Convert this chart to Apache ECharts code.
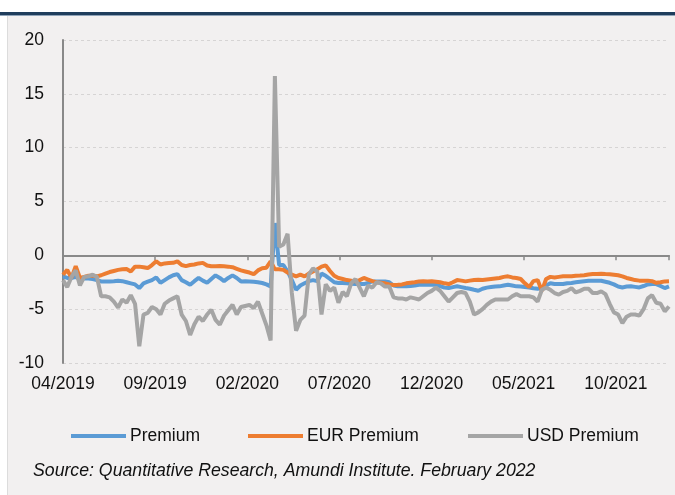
<!DOCTYPE html>
<html>
<head>
<meta charset="utf-8">
<script src="https://cdn.jsdelivr.net/npm/echarts@6/dist/echarts.min.js"></script>
<style>
  html, body { margin: 0; padding: 0; background: #f2f0f0; }
  #chart { width: 675px; height: 495px; }
</style>
</head>
<body>
<div id="chart"></div>
<script>
// ---- Data (weekly observations, first week of April 2019 onward) ----
const START_DATE = '2019-04-05';
const seriesNames = ['Premium', 'EUR Premium', 'USD Premium'];
const yTicks = [-10, -5, 0, 5, 10, 15, 20];
const xTickLabels = ['04/2019', '09/2019', '02/2020', '07/2020', '12/2020', '05/2021', '10/2021'];

const premium = [
  -1.95, -2.1, -2.1, -2.0, -2.2, -2.15, -2.15, -2.2, -2.3, -2.42,
  -2.42, -2.42, -2.4, -2.36, -2.4, -2.5, -2.6, -2.7, -3.04, -2.6,
  -2.45, -2.3, -2.05, -2.55, -2.3, -2.05, -1.85, -1.74, -2.3, -2.5,
  -2.73, -2.4, -2.1, -2.35, -2.55, -2.2, -1.86, -2.1, -2.4, -2.1,
  -1.86, -2.1, -2.42, -2.4, -2.42, -2.45, -2.5, -2.57, -2.7, -2.9,
  3.0, -0.9, -0.9, -1.5, -2.3, -3.2, -2.8, -2.6, -2.4, -2.3,
  -2.4, -1.7, -1.9, -2.2, -2.5, -2.57, -2.57, -2.6, -2.65, -2.67,
  -2.67, -2.67, -2.55, -2.42, -2.42, -2.42, -2.42, -2.5, -2.8, -2.88,
  -2.88, -2.88, -2.85, -2.8, -2.73, -2.73, -2.73, -2.73, -2.73, -2.85,
  -3.0, -3.04, -2.95, -2.88, -2.95, -3.04, -3.1, -3.2, -3.29, -3.1,
  -3.0, -2.95, -2.9, -2.88, -2.8, -2.73, -2.8, -2.88, -2.9, -2.95,
  -2.98, -3.05, -3.1, -3.04, -2.8, -2.6, -2.67, -2.67, -2.67, -2.6,
  -2.57, -2.5, -2.45, -2.4, -2.36, -2.36, -2.36, -2.36, -2.45, -2.55,
  -2.7, -2.9, -2.98, -2.9, -2.88, -2.93, -2.98, -2.85, -2.7, -2.67,
  -2.67, -2.85, -3.04, -2.88
];

const eurPremium = [
  -1.8, -1.35, -2.1, -1.0, -2.1, -2.0, -1.9, -1.9, -1.95, -1.85,
  -1.7, -1.55, -1.45, -1.35, -1.3, -1.27, -1.5, -1.05, -1.05, -1.1,
  -1.18, -0.9, -0.55, -0.85, -0.75, -0.72, -0.7, -0.56, -0.9, -1.0,
  -0.9, -0.85, -0.75, -0.7, -0.95, -1.02, -1.02, -1.0, -1.02, -1.05,
  -1.1, -1.25, -1.4, -1.5, -1.6, -1.75, -1.4, -1.2, -1.15, -0.56,
  -1.3, -1.3, -1.35, -1.6, -1.8, -1.95, -1.8, -1.95, -1.7, -1.5,
  -1.3, -1.05, -0.93, -1.45, -1.9, -2.1, -2.2, -2.3, -2.35, -2.42,
  -2.3, -2.1, -2.25, -2.4, -2.5, -2.55, -2.6, -2.7, -2.75, -2.73,
  -2.7, -2.6, -2.55, -2.5, -2.42, -2.4, -2.42, -2.4, -2.45, -2.5,
  -2.6, -2.67, -2.5, -2.3, -2.35, -2.42, -2.35, -2.3, -2.26, -2.3,
  -2.25, -2.2, -2.15, -2.1, -2.0, -1.95, -2.05, -2.1, -2.2, -2.6,
  -2.95, -2.4, -2.3, -3.3, -2.2, -2.0, -2.05, -2.0, -1.95, -1.95,
  -1.95, -1.9, -1.88, -1.85, -1.78, -1.74, -1.74, -1.72, -1.74, -1.75,
  -1.8, -1.85, -1.95, -2.1, -2.2, -2.3, -2.35, -2.35, -2.35, -2.4,
  -2.55, -2.5, -2.42, -2.4
];

const usdPremium = [
  -2.3, -2.95, -2.0, -1.4, -2.8, -2.0, -1.95, -1.8, -2.0, -3.8,
  -3.8, -3.9, -4.3, -4.85, -4.1, -4.4, -3.7, -4.5, -8.45, -5.5,
  -5.35, -4.8, -5.0, -5.5, -4.5, -4.2, -4.0, -3.8, -5.5, -6.1,
  -7.4, -6.4, -5.7, -6.1, -5.5, -5.05, -6.0, -6.45, -5.6, -5.1,
  -4.6, -5.5, -4.8, -4.7, -4.6, -4.9, -4.3, -5.4, -6.5, -7.9,
  16.65, 0.8, 1.0, 2.0, -3.5, -7.0, -6.0, -5.6, -1.8, -1.2,
  -1.5, -5.5, -2.7, -3.3, -3.0, -4.4, -3.4, -3.8, -2.6, -2.2,
  -3.0, -3.8, -2.8, -3.0, -2.5, -2.6, -2.9, -2.9, -3.9, -4.0,
  -4.0, -4.1, -3.9, -4.0, -4.1, -3.8, -3.5, -3.3, -3.0, -3.3,
  -3.8, -4.3, -3.9, -3.5, -3.4, -3.5, -4.3, -5.5, -5.3, -5.0,
  -4.6, -4.3, -4.1, -4.1, -4.1, -4.1, -3.8, -3.6, -3.8, -3.8,
  -3.8, -3.9, -4.3, -3.2, -3.0, -3.2, -3.5, -3.65, -3.4, -3.3,
  -3.05, -3.45, -3.3, -3.1, -3.1, -3.5, -3.5, -3.35, -3.6, -4.5,
  -5.3, -5.5, -6.3, -5.7, -5.5, -5.5, -5.6, -5.0, -4.0, -3.7,
  -4.4, -4.5, -5.2, -4.75
];

// weekly date categories
const dates = (function () {
  const out = [];
  const t0 = Date.parse(START_DATE + 'T00:00:00Z');
  for (let i = 0; i < premium.length; i++) out.push(t0 + i * 7 * 86400000);
  return out;
})();
const MONTH_DAYS = 365.25 / 12;
const t0 = dates[0];
function monthsFromStart(t) { return (t - t0) / 86400000 / MONTH_DAYS; }
const xs = dates.map(monthsFromStart);
const xMax = xs[xs.length - 1];

function pairs(vals) { return vals.map((v, i) => [xs[i], v]); }

const FONT = "'Liberation Sans', Arial, sans-serif";
const colors = ['#5b9bd5', '#ed7d31', '#a5a5a5'];

const chart = echarts.init(document.getElementById('chart'), null, { renderer: 'canvas' });

const legendLefts = [66, 243, 463];

chart.setOption({
  animation: false,
  backgroundColor: '#f2f0f0',
  color: colors,
  grid: { left: 63, right: 6, top: 40, bottom: 132, containLabel: false },
  xAxis: [
    {
      type: 'value', min: 0, max: xMax, interval: 5,
      position: 'bottom',
      axisLine: { show: true, onZero: true, lineStyle: { color: '#898989', width: 2 } },
      axisTick: { show: true, length: 5, lineStyle: { color: '#898989', width: 1.5 } },
      axisLabel: { show: false },
      splitLine: { show: false }
    },
    {
      type: 'value', min: 0, max: xMax, interval: 5,
      position: 'bottom',
      axisLine: { show: false, onZero: false },
      axisTick: { show: false },
      axisLabel: {
        show: true, margin: 12, color: '#111', fontSize: 17.5, fontFamily: FONT,
        formatter: function (v) {
          const k = Math.round(v / 5);
          return xTickLabels[k] !== undefined && Math.abs(v - k * 5) < 1e-6 ? xTickLabels[k] : '';
        }
      },
      splitLine: { show: false }
    }
  ],
  yAxis: {
    type: 'value', min: yTicks[0], max: yTicks[yTicks.length - 1], interval: 5,
    axisLine: { show: true, onZero: false, lineStyle: { color: '#898989', width: 2 } },
    axisTick: { show: false },
    axisLabel: { color: '#111', fontSize: 17.5, fontFamily: FONT, margin: 19 },
    splitLine: { show: true, lineStyle: { color: '#d6d4d4', width: 1, type: [3, 3] } }
  },
  legend: seriesNames.map((n, k) => ({
    data: [n], left: legendLefts[k], top: 422,
    icon: 'rect', itemWidth: 55, itemHeight: 4, itemGap: 0,
    textStyle: { color: '#111', fontSize: 17.5, fontFamily: FONT, padding: [0, 0, 0, -1] }
  })),
  graphic: [
    { type: 'rect', left: 0, top: 0, shape: { width: 675, height: 12 }, style: { fill: '#ffffff' }, silent: true },
    { type: 'rect', left: 0, top: 12, shape: { width: 675, height: 3 }, style: { fill: '#1f3d5c' }, silent: true },
    { type: 'rect', left: 0, top: 15, shape: { width: 675, height: 1 }, style: { fill: '#8fa3b8' }, silent: true },
    { type: 'rect', left: 0, top: 16, shape: { width: 7, height: 479 }, style: { fill: '#ffffff' }, silent: true },
    { type: 'rect', left: 7, top: 16, shape: { width: 1, height: 479 }, style: { fill: '#dcdcdc' }, silent: true },
    {
      type: 'text', left: 33, top: 462,
      style: {
        text: 'Source: Quantitative Research, Amundi Institute. February 2022',
        fill: '#111', font: 'italic 17.7px ' + FONT
      },
      silent: true
    }
  ],
  series: [
    { name: seriesNames[0], type: 'line', xAxisIndex: 0, data: pairs(premium), showSymbol: false, lineStyle: { width: 4, color: colors[0] }, z: 2 },
    { name: seriesNames[1], type: 'line', xAxisIndex: 0, data: pairs(eurPremium), showSymbol: false, lineStyle: { width: 4, color: colors[1] }, z: 3 },
    { name: seriesNames[2], type: 'line', xAxisIndex: 0, data: pairs(usdPremium), showSymbol: false, lineStyle: { width: 4, color: colors[2] }, z: 4 }
  ]
});
</script>
</body>
</html>
